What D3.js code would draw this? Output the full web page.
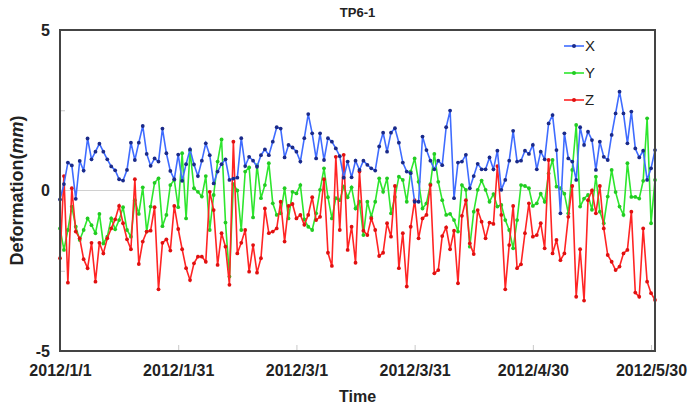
<!DOCTYPE html>
<html lang="en">
<head>
<meta charset="UTF-8">
<title>TP6-1 Deformation</title>
<script src="https://d3js.org/d3.v7.min.js"></script>
<style>
  body { margin: 0; background: #fff; }
  text { font-family: "Liberation Sans", Arial, sans-serif; }
</style>
</head>
<body>
<div id="chart"></div>
<script>
// daily observations starting 2012/1/1
const startDate = "2012-01-01";
const seriesNames = ["X", "Y", "Z"];

const xValues = [
  -0.28, 0.2, 0.87, 0.78, -0.26, 0.92, 0.62, 1.62, 0.97, 1.21,
  1.46, 1.21, 0.97, 0.75, 0.63, 0.35, 0.31, 0.64, 1.49, 0.95,
  1.49, 2.01, 1.14, 0.77, 1.0, 0.9, 1.93, 1.16, 0.61, 0.35,
  1.12, 0.3, 0.82, 1.28, 0.81, 0.45, 0.93, 1.47, 1.1, 0.22,
  0.59, 0.82, 0.97, 0.33, 0.37, 0.4, 1.63, 0.76, 1.05, 0.93,
  0.74, 1.1, 1.28, 1.1, 1.52, 1.97, 1.93, 1.03, 1.42, 1.34,
  1.21, 0.9, 1.63, 2.38, 1.78, 1.0, 1.78, 0.95, 1.63, 1.52,
  1.31, 1.07, 0.4, 0.9, 0.41, 0.93, 0.64, 0.93, 0.8, 0.69,
  0.62, 1.37, 1.8, 1.21, 1.8, 1.94, 1.49, 0.87, 0.59, 0.54,
  -0.35, -0.35, 1.68, 1.26, 0.93, 0.66, 0.93, 0.79, 1.97, 2.49,
  -0.24, 0.87, 0.9, 1.11, 0.07, 0.45, 0.83, 0.66, 0.66, 1.03,
  0.66, 1.24, 0.02, 0.33, 0.93, 1.86, 0.9, 0.93, 1.24, 1.14,
  1.42, 0.66, 1.21, 0.97, 2.09, 2.35, 1.26, -0.71, 1.78, 1.0,
  0.9, 0.33, 1.97, 1.42, 1.83, 1.57, 0.64, 1.52, 1.05, 0.95,
  1.73, 2.4, 3.08, 2.4, 1.47, 2.46, 1.31, 1.03, 1.24, 0.33,
  0.69, 1.26
];

const yValues = [
  -1.18, -1.85, -1.23, -0.5, -1.13, -1.54, -1.23, -0.87, -1.08, -1.33,
  -0.73, -1.65, -1.44, -0.87, -1.21, -0.92, -0.52, -1.23, -1.44, -0.3,
  -0.73, 0.1, -1.28, -0.5, 0.24, 0.38, -1.11, -0.76, 0.17, 0.33,
  -0.52, 1.16, -0.87, 1.24, 0.07, -0.04, -0.19, 0.45, -1.23, -0.14,
  0.9, 1.59, -1.0, -2.68, 0.2, 0.0, -1.23, 0.59, 0.72, -0.84,
  0.79, -0.24, 0.17, 0.85, -0.4, -0.76, -0.71, 0.07, -0.87, -0.04,
  -0.09, 0.17, -0.9, -1.13, -1.23, -0.71, 0.02, 0.69, -0.21, -0.87,
  -0.24, -0.3, 0.12, -0.21, 0.1, -0.56, -0.35, -1.39, -0.35, -0.82,
  -0.35, 0.38, -0.04, 0.38, -0.71, -0.2, 0.43, 0.33, -0.35, 0.59,
  1.0, 0.27, -0.56, -0.4, 0.2, 1.14, 0.27, -0.3, -0.76, -0.73,
  -0.92, -1.28, 0.17, 0.02, -1.75, -0.66, 0.02, 0.31, 0.02, -0.35,
  -0.11, -0.5, -0.45, -0.92, -1.23, -1.8, -0.92, 0.17, 0.14, 0.07,
  -0.48, -0.4, -0.1, -0.35, 0.53, 0.95, 0.12, 0.07, -0.1, -0.71,
  0.64, 2.04, -0.5, -0.25, -0.14, -0.6, 0.43, -0.66, -1.02, -0.19,
  0.64, -0.05, -0.5, -0.76, 0.85, -0.2, -0.2, -0.25, 0.3, 2.25,
  -1.02, 0.33
];

const zValues = [
  -2.11, 0.45, -2.87, 0.07, -1.28, -1.49, -2.14, -2.42, -1.63, -2.84,
  -1.63, -1.96, -1.49, -1.18, -0.9, -0.48, -1.02, -1.52, -1.83, 0.35,
  -2.29, -1.59, -1.28, -1.25, -0.52, -3.08, -1.63, -1.52, -1.87, -0.48,
  -1.2, -1.83, -2.42, -2.79, -2.27, -2.06, -2.06, -2.22, -0.04, -0.61,
  -2.32, -1.33, -1.75, -2.94, 1.52, -1.96, -1.63, -1.23, -2.53, -1.7,
  -2.56, -2.11, -0.56, -1.33, -1.28, -1.18, -0.35, -1.59, -0.48, -0.42,
  -0.87, -0.76, -1.07, -0.76, -0.21, -0.92, -0.82, 0.35, -1.94, -2.35,
  1.05, -1.23, 1.11, -1.85, -1.13, -2.25, 0.59, -1.25, -1.39, -0.87,
  -1.23, -2.04, -1.94, -1.02, -1.44, 0.14, -2.42, -1.33, -2.99, -1.13,
  -0.3, -1.49, -0.87, -0.76, 0.17, -2.58, -2.48, -1.42, -1.15, -1.83,
  -1.25, -2.89, -0.79, -0.3, -1.65, -1.98, -0.61, -0.97, -1.49, -1.0,
  -1.04, 0.76, -0.76, -3.08, -1.7, -0.48, -2.42, -2.3, -1.33, -0.4,
  -1.44, -1.39, -1.02, -1.8, 0.95, -1.96, -1.54, -2.17, -1.96, -0.82,
  0.14, -3.31, -1.83, -3.43, -0.3, 0.0, -0.71, 0.14, -1.18, -2.01,
  -2.22, -2.48, -2.37, -1.96, -1.85, -0.66, -3.18, -3.31, -1.18, -2.84,
  -3.2, -3.41
];

const tickDates = ["2012-01-01", "2012-01-31", "2012-03-01", "2012-03-31", "2012-04-30", "2012-05-30"];
const tickLabels = ["2012/1/1", "2012/1/31", "2012/3/1", "2012/3/31", "2012/4/30", "2012/5/30"];
const yTicks = [-5, -2.5, 0, 2.5, 5];
const yTickLabels = { "-5": "-5", "0": "0", "5": "5" };

const width = 691, height = 406;
const margin = { top: 30, right: 36, bottom: 55, left: 60 };
const w = width - margin.left - margin.right;
const h = height - margin.top - margin.bottom;

const parse = d3.timeParse("%Y-%m-%d");
const t0 = parse(startDate);
const dates = xValues.map((_, i) => d3.timeDay.offset(t0, i));

const svg = d3.select("#chart").append("svg")
  .attr("width", width)
  .attr("height", height);

const g = svg.append("g")
  .attr("transform", `translate(${margin.left},${margin.top})`);

const x = d3.scaleTime()
  .domain([t0, dates[dates.length - 1]])
  .range([0, w]);

const y = d3.scaleLinear()
  .domain([-5, 5])
  .range([h, 0]);

// zero line
g.append("line")
  .attr("x1", 0).attr("x2", w)
  .attr("y1", y(0)).attr("y2", y(0))
  .attr("stroke", "#d0d0d0")
  .attr("stroke-width", 1);

// x ticks (inside, pointing up)
const xAxis = g.append("g")
  .attr("transform", `translate(0,${h})`)
  .call(d3.axisBottom(x)
    .tickValues(tickDates.map(parse))
    .tickSizeInner(-6)
    .tickSizeOuter(0)
    .tickPadding(14)
    .tickFormat((d, i) => tickLabels[i]));
xAxis.select(".domain").remove();
xAxis.selectAll(".tick line").attr("stroke", "#c8c8c8");
xAxis.selectAll(".tick text")
  .attr("fill", "#222")
  .style("font-size", "16px")
  .style("font-weight", "bold");

// y ticks
const yAxis = g.append("g")
  .call(d3.axisLeft(y)
    .tickValues(yTicks)
    .tickSizeInner(-5)
    .tickSizeOuter(0)
    .tickPadding(10)
    .tickFormat(d => yTickLabels[d] || ""));
yAxis.select(".domain").remove();
yAxis.selectAll(".tick line").attr("stroke", "#c8c8c8");
yAxis.selectAll(".tick text")
  .attr("fill", "#222")
  .style("font-size", "16px")
  .style("font-weight", "bold");

const colors = {
  X: { line: "#3f6cff", dot: "#1a2a8a" },
  Y: { line: "#2ee62e", dot: "#22cc22" },
  Z: { line: "#ff2424", dot: "#e01010" }
};
const valuesByName = { X: xValues, Y: yValues, Z: zValues };

const line = d3.line()
  .x(d => x(d.date))
  .y(d => y(d.value));

// green at the bottom, red over it, blue on top
["Y", "Z", "X"].forEach(name => {
  const data = valuesByName[name].map((v, i) => ({ date: dates[i], value: v }));
  const s = g.append("g").attr("class", "series");
  s.append("path")
    .datum(data)
    .attr("fill", "none")
    .attr("stroke", colors[name].line)
    .attr("stroke-width", 1.6)
    .attr("d", line);
  s.selectAll("circle")
    .data(data)
    .enter().append("circle")
    .attr("cx", d => x(d.date))
    .attr("cy", d => y(d.value))
    .attr("r", 1.9)
    .attr("fill", colors[name].dot);
});

// frame
g.append("rect")
  .attr("x", 0).attr("y", 0)
  .attr("width", w).attr("height", h)
  .attr("fill", "none")
  .attr("stroke", "#444")
  .attr("stroke-width", 2);

// legend
const legend = g.append("g")
  .attr("transform", `translate(${564 - margin.left},${46 - margin.top})`);
seriesNames.forEach((name, i) => {
  const row = legend.append("g").attr("transform", `translate(0,${i * 27})`);
  row.append("line")
    .attr("x1", 0).attr("x2", 20)
    .attr("stroke", colors[name].line)
    .attr("stroke-width", 1.6);
  row.append("circle")
    .attr("cx", 10).attr("r", 2)
    .attr("fill", colors[name].dot);
  row.append("text")
    .attr("x", 21)
    .attr("dy", "0.36em")
    .attr("fill", "#222")
    .style("font-size", "15px")
    .text(name);
});

// titles
svg.append("text")
  .attr("x", margin.left + w / 2)
  .attr("y", 17)
  .attr("text-anchor", "middle")
  .attr("fill", "#222")
  .style("font-size", "13px")
  .style("font-weight", "bold")
  .text("TP6-1");

svg.append("text")
  .attr("x", margin.left + w / 2)
  .attr("y", 402)
  .attr("text-anchor", "middle")
  .attr("fill", "#222")
  .style("font-size", "16px")
  .style("font-weight", "bold")
  .text("Time");

const ylab = svg.append("text")
  .attr("transform", `translate(23,${margin.top + h / 2}) rotate(-90)`)
  .attr("text-anchor", "middle")
  .attr("fill", "#222")
  .style("font-size", "18px")
  .style("font-weight", "bold");
ylab.append("tspan").text("Deformation(");
ylab.append("tspan").style("font-style", "italic").text("mm");
ylab.append("tspan").text(")");
</script>
</body>
</html>
